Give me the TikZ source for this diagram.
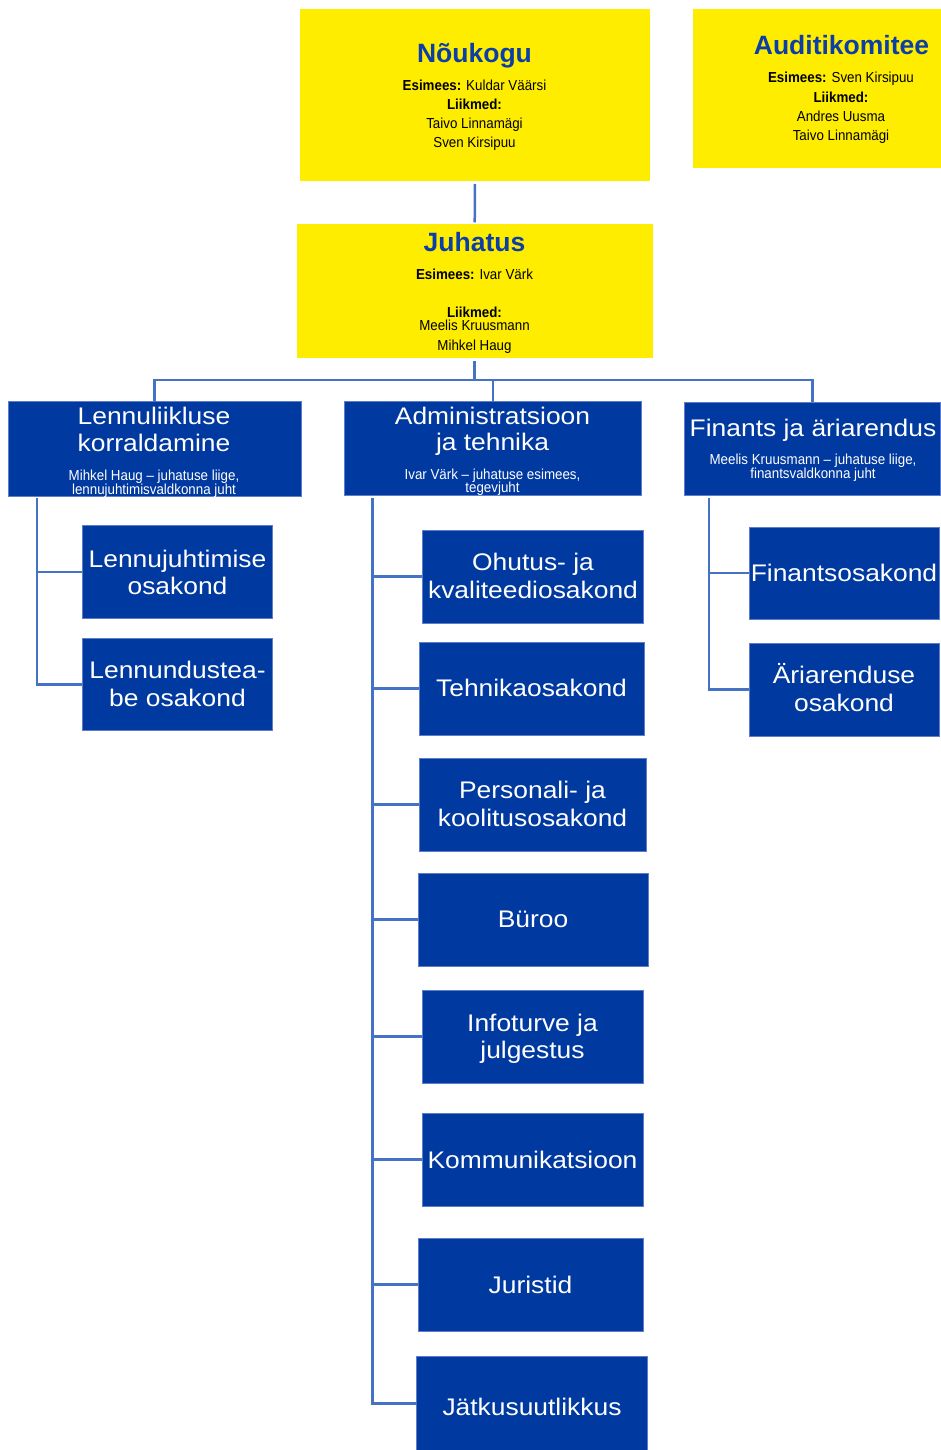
\documentclass[tikz,border=0pt]{standalone}
\usepackage{fontspec}
\setmainfont{Liberation Sans}
\newfontfamily\wideF{Liberation Sans}[FakeStretch=1.1]
\newfontfamily\narrowF{Liberation Sans}[FakeStretch=0.92]
\definecolor{ybox}{RGB}{255,237,0}
\definecolor{bbox}{RGB}{0,57,160}
\definecolor{bedge}{RGB}{95,125,200}
\definecolor{tblue}{RGB}{12,62,168}
\definecolor{conn}{RGB}{68,114,196}
\begin{document}
\begin{tikzpicture}[x=1pt,y=-1pt,
  ybx/.style={fill=ybox, draw=none, inner sep=0, outer sep=0},
  bbx/.style={fill=bbox, draw=bedge, line width=0.8pt, inner sep=0, outer sep=0},
  ttl/.style={font=\bfseries\fontsize{26.5}{30}\selectfont, text=tblue, anchor=base, inner sep=0},
  ytx/.style={font=\narrowF\fontsize{14.5}{16}\selectfont, text=black, anchor=base, inner sep=0},
  big/.style={font=\wideF\fontsize{24}{28}\selectfont, text=white, anchor=base, inner sep=0},
  sub/.style={font=\narrowF\fontsize{14.5}{16}\selectfont, text=white, anchor=base, inner sep=0},
  cn/.style={draw=conn, line width=2.5pt}
]
\useasboundingbox (0,0) rectangle (941,1450);

% ---------- yellow boxes ----------
\node[ybx, minimum width=350pt, minimum height=172pt] (nk) at (475,95) {};
\node[ttl] (nkT) at (474.5,62.7) {Nõukogu};
\node[ytx] (nk1) at (474.5,90.7) {\textbf{Esimees:} Kuldar Väärsi};
\node[ytx] (nk2) at (474.5,109.4) {\textbf{Liikmed:}};
\node[ytx] (nk3) at (474.5,128.2) {Taivo Linnamägi};
\node[ytx] (nk4) at (474.5,147.3) {Sven Kirsipuu};

\node[ybx, minimum width=249pt, minimum height=159pt] (ak) at (817.5,88.5) {};
\node[ttl] (akT) at (841.5,55) {Auditikomitee};
\node[ytx] (ak1) at (841,82.7) {\textbf{Esimees:} Sven Kirsipuu};
\node[ytx] (ak2) at (841,102.7) {\textbf{Liikmed:}};
\node[ytx] (ak3) at (841,121.7) {Andres Uusma};
\node[ytx] (ak4) at (841,140.5) {Taivo Linnamägi};

\node[ybx, minimum width=356pt, minimum height=134pt] (ju) at (474.7,291.3) {};
\node[ttl] (juT) at (474.5,251.7) {Juhatus};
\node[ytx] (ju1) at (474.5,279) {\textbf{Esimees:} Ivar Värk};
\node[ytx] (ju2) at (474.5,317.3) {\textbf{Liikmed:}};
\node[ytx] (ju3) at (474.5,330.7) {Meelis Kruusmann};
\node[ytx] (ju4) at (474.5,350.3) {Mihkel Haug};

% ---------- headers ----------
\node[bbx, minimum width=292.7pt, minimum height=94.3pt] (h1) at (154.7,448.9) {};
\node[big] (h1a) at (154,424) {Lennuliikluse};
\node[big] (h1b) at (154,451.7) {korraldamine};
\node[sub] (h1c) at (154,480) {Mihkel Haug – juhatuse liige,};
\node[sub] (h1d) at (154,494) {lennujuhtimisvaldkonna juht};

\node[bbx, minimum width=297.7pt, minimum height=93.3pt] (h2) at (492.9,448.4) {};
\node[big] (h2a) at (492.5,424.3) {Administratsioon};
\node[big] (h2b) at (492.5,450.7) {ja tehnika};
\node[sub] (h2c) at (492.5,479.3) {Ivar Värk – juhatuse esimees,};
\node[sub] (h2d) at (492.5,492) {tegevjuht};

\node[bbx, minimum width=256.7pt, minimum height=92.7pt] (h3) at (812.4,448.7) {};
\node[big] (h3a) at (813,436.7) {Finants ja äriarendus};
\node[sub] (h3b) at (813,464) {Meelis Kruusmann – juhatuse liige,};
\node[sub] (h3c) at (813,478) {finantsvaldkonna juht};

% ---------- left column ----------
\node[bbx, minimum width=190pt, minimum height=92.6pt] (l1) at (177.3,572) {};
\node[big] (l1a) at (177.5,567.3) {Lennujuhtimise};
\node[big] (l1b) at (177.5,594.5) {osakond};
\node[bbx, minimum width=190pt, minimum height=92.4pt] (l2) at (177.3,684.5) {};
\node[big] (l2a) at (177.5,678.3) {Lennundustea-};
\node[big] (l2b) at (177.5,706.7) {be osakond};

% ---------- middle column ----------
\node[bbx, minimum width=221pt, minimum height=93pt] (m1) at (532.5,576.5) {};
\node[big] (m1a) at (533,570.5) {Ohutus- ja};
\node[big] (m1b) at (533,598.5) {kvaliteediosakond};
\node[bbx, minimum width=225pt, minimum height=93pt] (m2) at (531.5,688.5) {};
\node[big] (m2a) at (531.5,696.5) {Tehnikaosakond};
\node[bbx, minimum width=227pt, minimum height=93pt] (m3) at (532.5,804.5) {};
\node[big] (m3a) at (532.5,798.5) {Personali- ja};
\node[big] (m3b) at (532.5,826.5) {koolitusosakond};
\node[bbx, minimum width=230pt, minimum height=93pt] (m4) at (533,919.5) {};
\node[big] (m4a) at (533,927.5) {Büroo};
\node[bbx, minimum width=221pt, minimum height=93pt] (m5) at (532.5,1036.5) {};
\node[big] (m5a) at (532.5,1031.5) {Infoturve ja};
\node[big] (m5b) at (532.5,1058.5) {julgestus};
\node[bbx, minimum width=221pt, minimum height=93pt] (m6) at (532.5,1159.5) {};
\node[big] (m6a) at (532.5,1168.5) {Kommunikatsioon};
\node[bbx, minimum width=225pt, minimum height=93pt] (m7) at (530.5,1284.5) {};
\node[big] (m7a) at (530.5,1293.5) {Juristid};
\node[bbx, minimum width=230.6pt, minimum height=93.3pt] (m8) at (532,1403.4) {};
\node[big] (m8a) at (532,1415) {Jätkusuutlikkus};

% ---------- right column ----------
\node[bbx, minimum width=190pt, minimum height=92pt] (r1) at (844,573) {};
\node[big] (r1a) at (844,581.5) {Finantsosakond};
\node[bbx, minimum width=190pt, minimum height=93pt] (r2) at (844,689.5) {};
\node[big] (r2a) at (844,683.5) {Äriarenduse};
\node[big] (r2b) at (844,711.5) {osakond};

% ---------- connectors ----------
\coordinate (bus) at (0,380);
\draw[cn, shorten <=3pt, shorten >=2pt] (nk.south) -- (ju.north);
\draw[cn, shorten <=3pt] (ju.south) -- (ju.south |- bus);
\draw[cn] (h1.north) -- (h1.north |- bus) -- (h3.north |- bus) -- (h3.north);
\draw[cn] (h2.north |- bus) -- (h2.north);

\coordinate (lt) at (37,498);
\draw[cn] (lt) |- (l2.west);
\draw[cn] (lt |- l1.west) -- (l1.west);

\coordinate (mt) at (372.5,498);
\draw[cn] (mt) |- (m8.west);
\foreach \m in {m1,m2,m3,m4,m5,m6,m7}
  \draw[cn] (mt |- \m.west) -- (\m.west);

\coordinate (rt) at (709,498);
\draw[cn] (rt) |- (r2.west);
\draw[cn] (rt |- r1.west) -- (r1.west);
\end{tikzpicture}
\end{document}
